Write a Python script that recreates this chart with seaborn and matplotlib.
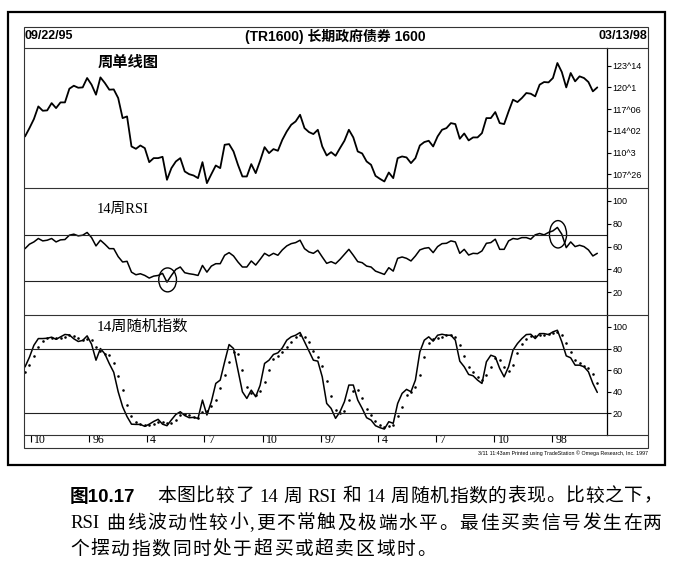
import re
import numpy as np
import pandas as pd
import matplotlib
matplotlib.use('Agg')
import matplotlib.pyplot as plt
import matplotlib.dates as mdates
import matplotlib.transforms as mtransforms
from matplotlib.patches import Ellipse, Rectangle
from matplotlib.lines import Line2D
from matplotlib.ticker import FixedLocator, FixedFormatter, FuncFormatter
import seaborn as sns

# ---------------- data ----------------
START_DATE = '1995-09-22'

price = [113.26, 114.46, 115.76, 117.58, 116.96, 117.01, 118.06, 117.34, 118.16, 118.16,
         120.13, 120.56, 120.27, 120.32, 121.67, 120.71, 119.27, 121.76, 120.95, 119.99,
         120.03, 118.79, 115.90, 116.14, 111.82, 111.48, 111.96, 111.58, 109.56, 110.14,
         110.14, 110.33, 107.02, 108.70, 109.66, 110.14, 108.22, 107.83, 107.64, 107.26,
         109.56, 106.54, 107.83, 109.08, 108.70, 112.06, 112.16, 111.10, 109.18, 107.50,
         107.50, 109.28, 107.98, 109.76, 111.72, 110.86, 111.44, 111.20, 112.78, 113.98,
         114.94, 115.42, 116.38, 114.46, 113.89, 113.60, 114.22,
         111.82, 110.52, 111.00, 110.48, 111.58, 112.64, 114.22, 113.12, 111.10, 110.81,
         109.66, 109.18, 107.59, 107.16, 106.78, 108.07, 107.26, 110.14, 110.38, 110.24,
         109.42, 110.14, 111.96, 112.45, 112.64, 111.82, 113.26, 114.22, 114.46, 115.18,
         115.04, 112.93, 113.69, 112.69, 113.12, 113.12, 113.74, 115.90, 115.90, 116.77,
         115.18, 115.04, 116.86, 118.55, 118.21, 118.79, 119.51, 119.41, 119.03, 120.71,
         121.09, 121.04, 121.67, 123.83, 122.53, 120.32, 122.39, 121.19, 121.91, 121.67,
         121.09, 119.75, 120.32]

rsi = [58.2, 62.1, 64.1, 67.1, 65.0, 65.6, 67.1, 64.1, 65.9, 66.2,
       70.0, 70.9, 69.4, 70.0, 72.4, 67.9, 60.6, 65.6, 62.1, 58.2,
       58.2, 51.2, 46.5, 47.1, 37.6, 35.3, 36.2, 34.7, 32.4, 34.1,
       34.7, 36.5, 28.8, 34.7, 40.0, 42.1, 37.1, 36.2, 35.6, 34.7,
       43.5, 37.6, 42.9, 45.0, 45.0, 52.4, 54.7, 51.8, 46.5, 42.1,
       42.1, 47.4, 43.8, 48.8, 54.1, 51.8, 54.1, 52.4, 57.1, 60.6,
       62.6, 63.5, 65.6, 58.2, 55.3, 54.1, 56.8,
       50.9, 45.3, 46.8, 45.0, 48.8, 53.2, 57.6, 52.4, 46.8, 45.9,
       42.9, 42.1, 38.5, 37.1, 35.6, 41.5, 38.5, 49.7, 50.9, 49.7,
       47.4, 51.8, 57.1, 58.5, 59.1, 54.7, 60.0, 62.6, 62.9, 65.0,
       64.1, 54.1, 57.6, 52.6, 54.1, 53.8, 56.2, 62.9, 63.5, 66.5,
       57.6, 57.6, 65.0, 67.1, 66.5, 67.9, 67.9, 66.5, 70.3, 71.5,
       70.3, 72.4, 73.8, 76.8, 70.9, 59.1, 64.1, 60.0, 61.2, 60.0,
       57.1, 51.8, 54.1]

stoch_k = [63, 72, 83, 89.2, 89.2, 89.5, 90.5, 88.5, 90.8, 93,
           92.5, 89, 86.5, 87.5, 91.7, 84, 69.2, 80, 75, 66,
           58, 40, 26.2, 17, 10, 9.8, 9.8, 8, 10, 12.5,
           14.5, 10, 8.6, 14, 19, 21.5, 18, 16, 16.3, 15.4,
           32.3, 18.5, 30.8, 47.7, 50.8, 67.7, 83.7, 80, 60, 40,
           33.8, 41.5, 35.4, 46, 66.2, 69.2, 74.5, 76, 80.6, 87.7,
           90.8, 92.3, 94.8, 86.2, 77.8, 69.2, 68.3,
           53.8, 29.2, 24.6, 15.4, 21.5, 30.8, 46.2, 46.2, 32.3, 24.6,
           16, 13.8, 8.6, 6.8, 5.5, 12.3, 10.8, 29.2, 38.5, 42.2,
           40, 50.8, 76.9, 87.7, 90.8, 86.8, 92.3, 93.2, 92.3, 92.3,
           87.7, 68.3, 63.1, 56, 54.8, 50.8, 47.7, 67.7, 73.8, 72.3,
           61.5, 53.8, 63.1, 78.5, 84.6, 89.2, 92.9, 93.2, 89.2, 93.8,
           93.8, 92.9, 95.4, 96.9, 86.2, 73.2, 71.4, 64.6, 64.6, 63.1,
           58.5, 47.7, 39.4]

stoch_d = [58, 65, 72.7, 81.4, 87.1, 89.3, 89.7, 89.5, 89.9, 90.8,
           92.1, 91.5, 89.3, 87.7, 88.6, 87.7, 81.6, 77.7, 74.7, 73.7,
           66.3, 54.7, 41.4, 27.7, 17.7, 12.3, 9.9, 9.2, 9.3, 10.2,
           12.3, 12.3, 11.0, 10.9, 13.9, 18.2, 19.5, 18.5, 16.8, 15.9,
           21.3, 22.1, 27.2, 32.3, 43.1, 55.4, 67.4, 77.1, 74.6, 60,
           44.6, 38.4, 36.9, 41.0, 49.2, 60.5, 70, 73.2, 77, 81.4,
           86.4, 90.3, 92.6, 91.1, 86.3, 77.7, 71.8,
           63.8, 50.4, 35.9, 23.1, 20.5, 22.6, 32.8, 41.1, 41.6, 34.4,
           24.3, 18.1, 12.8, 9.7, 7.0, 8.2, 9.5, 17.4, 26.2, 36.6,
           40.2, 44.3, 55.9, 71.8, 85.1, 88.4, 90, 90.8, 92.6, 92.6,
           90.8, 82.8, 73.0, 62.5, 58.0, 53.9, 51.1, 55.4, 63.1, 71.3,
           69.2, 62.5, 59.5, 65.1, 75.4, 84.1, 88.9, 91.8, 91.8, 92.1,
           92.3, 93.5, 94.0, 95.1, 92.8, 85.4, 76.9, 69.7, 66.9, 64.1,
           62.1, 56.4, 48.5]

price_ticks = [107.8125, 110.9375, 114.0625, 117.1875, 120.3125, 123.4375]
price_tick_labels = ['107^26', '110^3', '114^02', '117^06', '120^1', '123^14']
osc_ticks = [20, 40, 60, 80, 100]
rsi_levels = [30, 70]
stoch_levels = [20, 80]

header_left = '09/22/95'
header_right = '03/13/98'
header_title = '(TR1600) 长期政府债券 1600'
panel_titles = ['周单线图', '14周RSI', '14周随机指数']
footer = '3/11 11:43am Printed using TradeStation © Omega Research, Inc. 1997'
caption_num = '图10.17'
caption_lines = ['本图比较了 14 周 RSI 和 14 周随机指数的表现。比较之下，',
                 'RSI 曲线波动性较小,更不常触及极端水平。最佳买卖信号发生在两',
                 '个摆动指数同时处于超买或超卖区域时。']

# ---------------- style ----------------
sns.set_theme(style='white')
plt.rcParams['font.family'] = ['Liberation Sans', 'Noto Sans CJK SC', 'DejaVu Sans']
plt.rcParams['axes.unicode_minus'] = False

dates = pd.date_range(START_DATE, periods=len(price), freq='7D')
df = pd.DataFrame({'date': dates, 'price': price, 'rsi': rsi,
                   'k': stoch_k, 'd': stoch_d})

W, H = 674, 579
fig = plt.figure(figsize=(W / 100, H / 100), dpi=100)
fig.patch.set_facecolor('white')


def rect(x0, y0, x1, y1):
    return [x0 / W, 1 - y1 / H, (x1 - x0) / W, (y1 - y0) / H]


def fx(x):
    return x / W


def fy(y):
    return 1 - y / H


ax1 = fig.add_axes(rect(24, 48, 607, 188))
ax2 = fig.add_axes(rect(24, 188, 607, 315))
ax3 = fig.add_axes(rect(24, 315, 607, 435))

LINE = 'black'
sns.lineplot(data=df, x='date', y='price', ax=ax1, color=LINE, lw=1.3)
sns.lineplot(data=df, x='date', y='rsi', ax=ax2, color=LINE, lw=1.1)
sns.lineplot(data=df, x='date', y='k', ax=ax3, color=LINE, lw=1.1)
sns.scatterplot(data=df, x='date', y='d', ax=ax3, color=LINE, s=3.5,
                linewidth=0, legend=False)

x0 = mdates.date2num(dates[0]) - 1.6
x1 = mdates.date2num(dates[-1]) + 15.3

for ax in (ax1, ax2, ax3):
    ax.set_facecolor('white')
    ax.set_xlim(x0, x1)
    ax.set_xlabel('')
    ax.set_ylabel('')
    for s in ('left', 'top', 'bottom'):
        ax.spines[s].set_visible(False)
    ax.spines['right'].set_visible(True)
    ax.spines['right'].set_color('black')
    ax.spines['right'].set_linewidth(0.9)
    ax.yaxis.tick_right()
    ax.tick_params(axis='y', which='major', direction='out', length=3,
                   width=0.8, labelsize=6.5, pad=1, colors='black',
                   right=True, left=False)
    ax.grid(False)

ax1.set_ylim(105.84, 125.99)
ax1.yaxis.set_major_locator(FixedLocator(price_ticks))
ax1.yaxis.set_major_formatter(FixedFormatter(price_tick_labels))

ax2.set_ylim(0, 111.4)
ax2.set_yticks(osc_ticks)
for lv in rsi_levels:
    ax2.axhline(lv, color='#222222', lw=0.8)

ax3.set_ylim(0, 111)
ax3.set_yticks(osc_ticks)
for lv in stoch_levels:
    ax3.axhline(lv, color='#222222', lw=0.8)

# circles on RSI extremes
i_min = int(np.argmin(rsi))
i_max = int(np.argmax(rsi))
ax2.add_patch(Ellipse((mdates.date2num(dates[i_min]) + 1, rsi[i_min] + 2),
                      width=28, height=21, fill=False, ec='black', lw=1.0))
ax2.add_patch(Ellipse((mdates.date2num(dates[i_max]) + 1, rsi[i_max] - 6),
                      width=27, height=24, fill=False, ec='black', lw=1.0))

# x axis
for ax in (ax1, ax2):
    ax.tick_params(axis='x', bottom=False, labelbottom=False)
ax3.xaxis.set_major_locator(mdates.MonthLocator(bymonth=[1, 4, 7, 10]))


def fmt_date(v, pos=None):
    d = mdates.num2date(v)
    return '%02d' % (d.year % 100) if d.month == 1 else str(d.month)


ax3.xaxis.set_major_formatter(FuncFormatter(fmt_date))
ax3.tick_params(axis='x', bottom=True, direction='out', length=5, width=0.8,
                pad=-6, labelsize=8.5, colors='black')

# frames and separators
fig.patches.append(Rectangle((fx(8), fy(465)), fx(665) - fx(8), fy(12) - fy(465),
                             transform=fig.transFigure, fill=False, ec='black', lw=1.6))
fig.patches.append(Rectangle((fx(24), fy(448)), fx(648) - fx(24), fy(27) - fy(448),
                             transform=fig.transFigure, fill=False, ec='#333333', lw=0.8))
for yy in (48, 188, 315, 435):
    fig.lines.append(Line2D([fx(24), fx(648)], [fy(yy), fy(yy)],
                            transform=fig.transFigure, color='#333333', lw=0.8))

# header
fig.text(fx(25), fy(36), header_left, ha='left', va='center', fontsize=9,
         weight='bold', color='black')
fig.text(fx(647), fy(36), header_right, ha='right', va='center', fontsize=9,
         weight='bold', color='black')
fig.text(fx(335), fy(36), header_title, ha='center', va='center', fontsize=10,
         weight='bold', color='black')

# panel titles
fig.text(fx(98), fy(63), panel_titles[0], ha='left', va='center', fontsize=11,
         weight='bold', color='black')
fig.text(fx(97), fy(209), panel_titles[1], ha='left', va='center', fontsize=10.5,
         color='black', family=['Liberation Serif', 'Noto Sans CJK SC'])
fig.text(fx(97), fy(327), panel_titles[2], ha='left', va='center', fontsize=11,
         color='black', family=['Liberation Serif', 'Noto Sans CJK SC'])

# footer
fig.text(fx(648), fy(453), footer, ha='right', va='center', fontsize=3.8,
         color='black')

# caption (justified like the printed book)
CAP_FS = 13.5
cap_font = ['Liberation Serif', 'Noto Sans CJK SC']
fig.text(fx(70), fy(497), caption_num, ha='left', va='center', fontsize=CAP_FS,
         weight='bold', color='black', family=['Liberation Sans', 'Noto Sans CJK SC'])

renderer = fig.canvas.get_renderer()


def layout_line(text, x_start, y, x_end=None, gap=None):
    tokens = re.findall(r'[A-Za-z0-9.]+|.', text)
    arts, widths = [], []
    for t in tokens:
        if t == ' ':
            arts.append(None)
            widths.append(CAP_FS * 100 / 72 * 0.22)
            continue
        a = fig.text(0, fy(y), t, ha='left', va='center', fontsize=CAP_FS,
                     color='black', family=cap_font)
        arts.append(a)
        widths.append(a.get_window_extent(renderer).width)
    if gap is None:
        gap = (x_end - x_start - sum(widths)) / max(len(tokens) - 1, 1)
    x = x_start
    for a, w in zip(arts, widths):
        if a is not None:
            a.set_x(fx(x))
        x += w + gap
    return gap


g2 = layout_line(caption_lines[1], 70, 524, x_end=662)
layout_line(caption_lines[0], 157, 497, x_end=662)
layout_line(caption_lines[2], 70, 550, gap=g2)

fig.canvas.draw()
offset = mtransforms.ScaledTranslation(3.5 / 100, 0, fig.dpi_scale_trans)
for lab in ax3.get_xticklabels():
    lab.set_horizontalalignment('left')
    lab.set_verticalalignment('top')
    lab.set_transform(lab.get_transform() + offset)
    lab.set_family(['Liberation Serif'])

fig.savefig('out.png', dpi=100, facecolor='white')
